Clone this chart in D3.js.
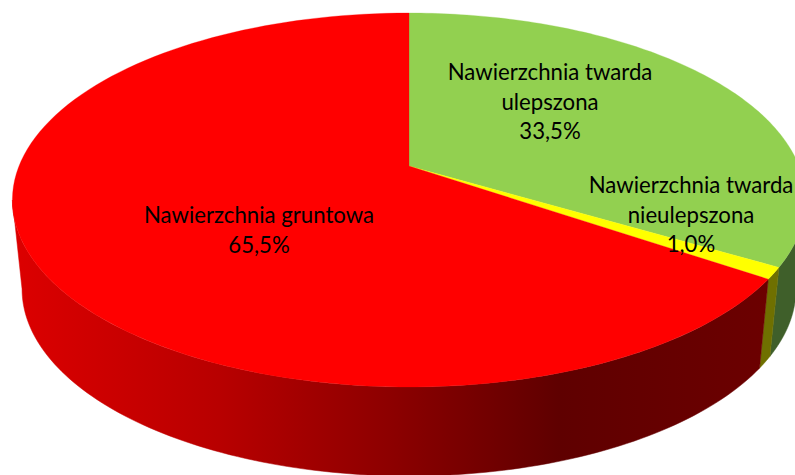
<!DOCTYPE html>
<html><head><meta charset="utf-8">
<script src="https://cdn.jsdelivr.net/npm/d3@7"></script>
<style>html,body{margin:0;padding:0;background:#fff}svg{display:block}text{font-family:Lato,"Open Sans",sans-serif;font-size:22.2px;fill:#000;text-anchor:middle}</style>
</head><body><svg id="c" width="795" height="475"></svg>
<script>
const categories = ["Nawierzchnia twarda ulepszona", "Nawierzchnia twarda nieulepszona", "Nawierzchnia gruntowa"];
const values = [33.5, 1.0, 65.5];
const valueLabels = ["33,5%", "1,0%", "65,5%"];
const labelLines = [["Nawierzchnia twarda", "ulepszona"], ["Nawierzchnia twarda", "nieulepszona"], ["Nawierzchnia gruntowa"]];
const topColors = ["#92d050", "#ffff00", "#ff0000"];
const wallColors = ["#3f5f2a", "#6f7000", "url(#redWall)"];
const labelPos = [[550, 80], [691, 193], [259, 223]];

const svg = d3.select("#c");
const defs = svg.append("defs");
const grad = defs.append("linearGradient").attr("id", "redWall")
  .attr("gradientUnits", "userSpaceOnUse").attr("x1", 15).attr("x2", 770).attr("y1", 0).attr("y2", 0);
[[0, "#dc0000"], [0.27, "#b80000"], [0.5, "#8c0000"], [0.72, "#5f0000"], [1, "#6c0000"]].forEach(s =>
  grad.append("stop").attr("offset", s[0]).attr("stop-color", s[1]));

const p = 0.1818;
const topDisc = {x0: 409, y0: 166, a: 390, b: 180.8};
const botDisc = {x0: 409, y0: 255, a: 380.5, b: 180.8};
function project(d, t) {
  const u = Math.sin(t), v = Math.cos(t), w = 1 + p * v;
  return [d.x0 + d.a * u / w, d.y0 - d.b * v / w];
}
const arcPts = (d, t0, t1) => d3.range(0, 121).map(i => project(d, t0 + (t1 - t0) * i / 120));

const pie = d3.pie().sort(null).startAngle(0).endAngle(2 * Math.PI);
const slices = pie(values);
const line = d3.line();
const tanR = Math.acos(-p), tanL = 2 * Math.PI - tanR;

const g = svg.append("g");
slices.forEach((s, i) => {
  const t0 = Math.max(s.startAngle, tanR), t1 = Math.min(s.endAngle, tanL);
  const pts = arcPts(topDisc, t0, t1).concat(arcPts(botDisc, t1, t0));
  g.append("path").attr("d", line(pts) + "Z").attr("fill", wallColors[i])
    .attr("stroke", wallColors[i]).attr("stroke-width", 0.5);
});
slices.forEach((s, i) => {
  const pts = [[topDisc.x0, topDisc.y0]].concat(arcPts(topDisc, s.startAngle, s.endAngle));
  g.append("path").attr("d", line(pts) + "Z").attr("fill", topColors[i])
    .attr("stroke", topColors[i]).attr("stroke-width", 0.3);
});
const LH = 29.5;
categories.forEach((c, i) => {
  const lines = labelLines[i].concat([valueLabels[i]]);
  lines.forEach((t, j) => svg.append("text").attr("x", labelPos[i][0]).attr("y", labelPos[i][1] + j * LH).text(t));
});
</script></body></html>
